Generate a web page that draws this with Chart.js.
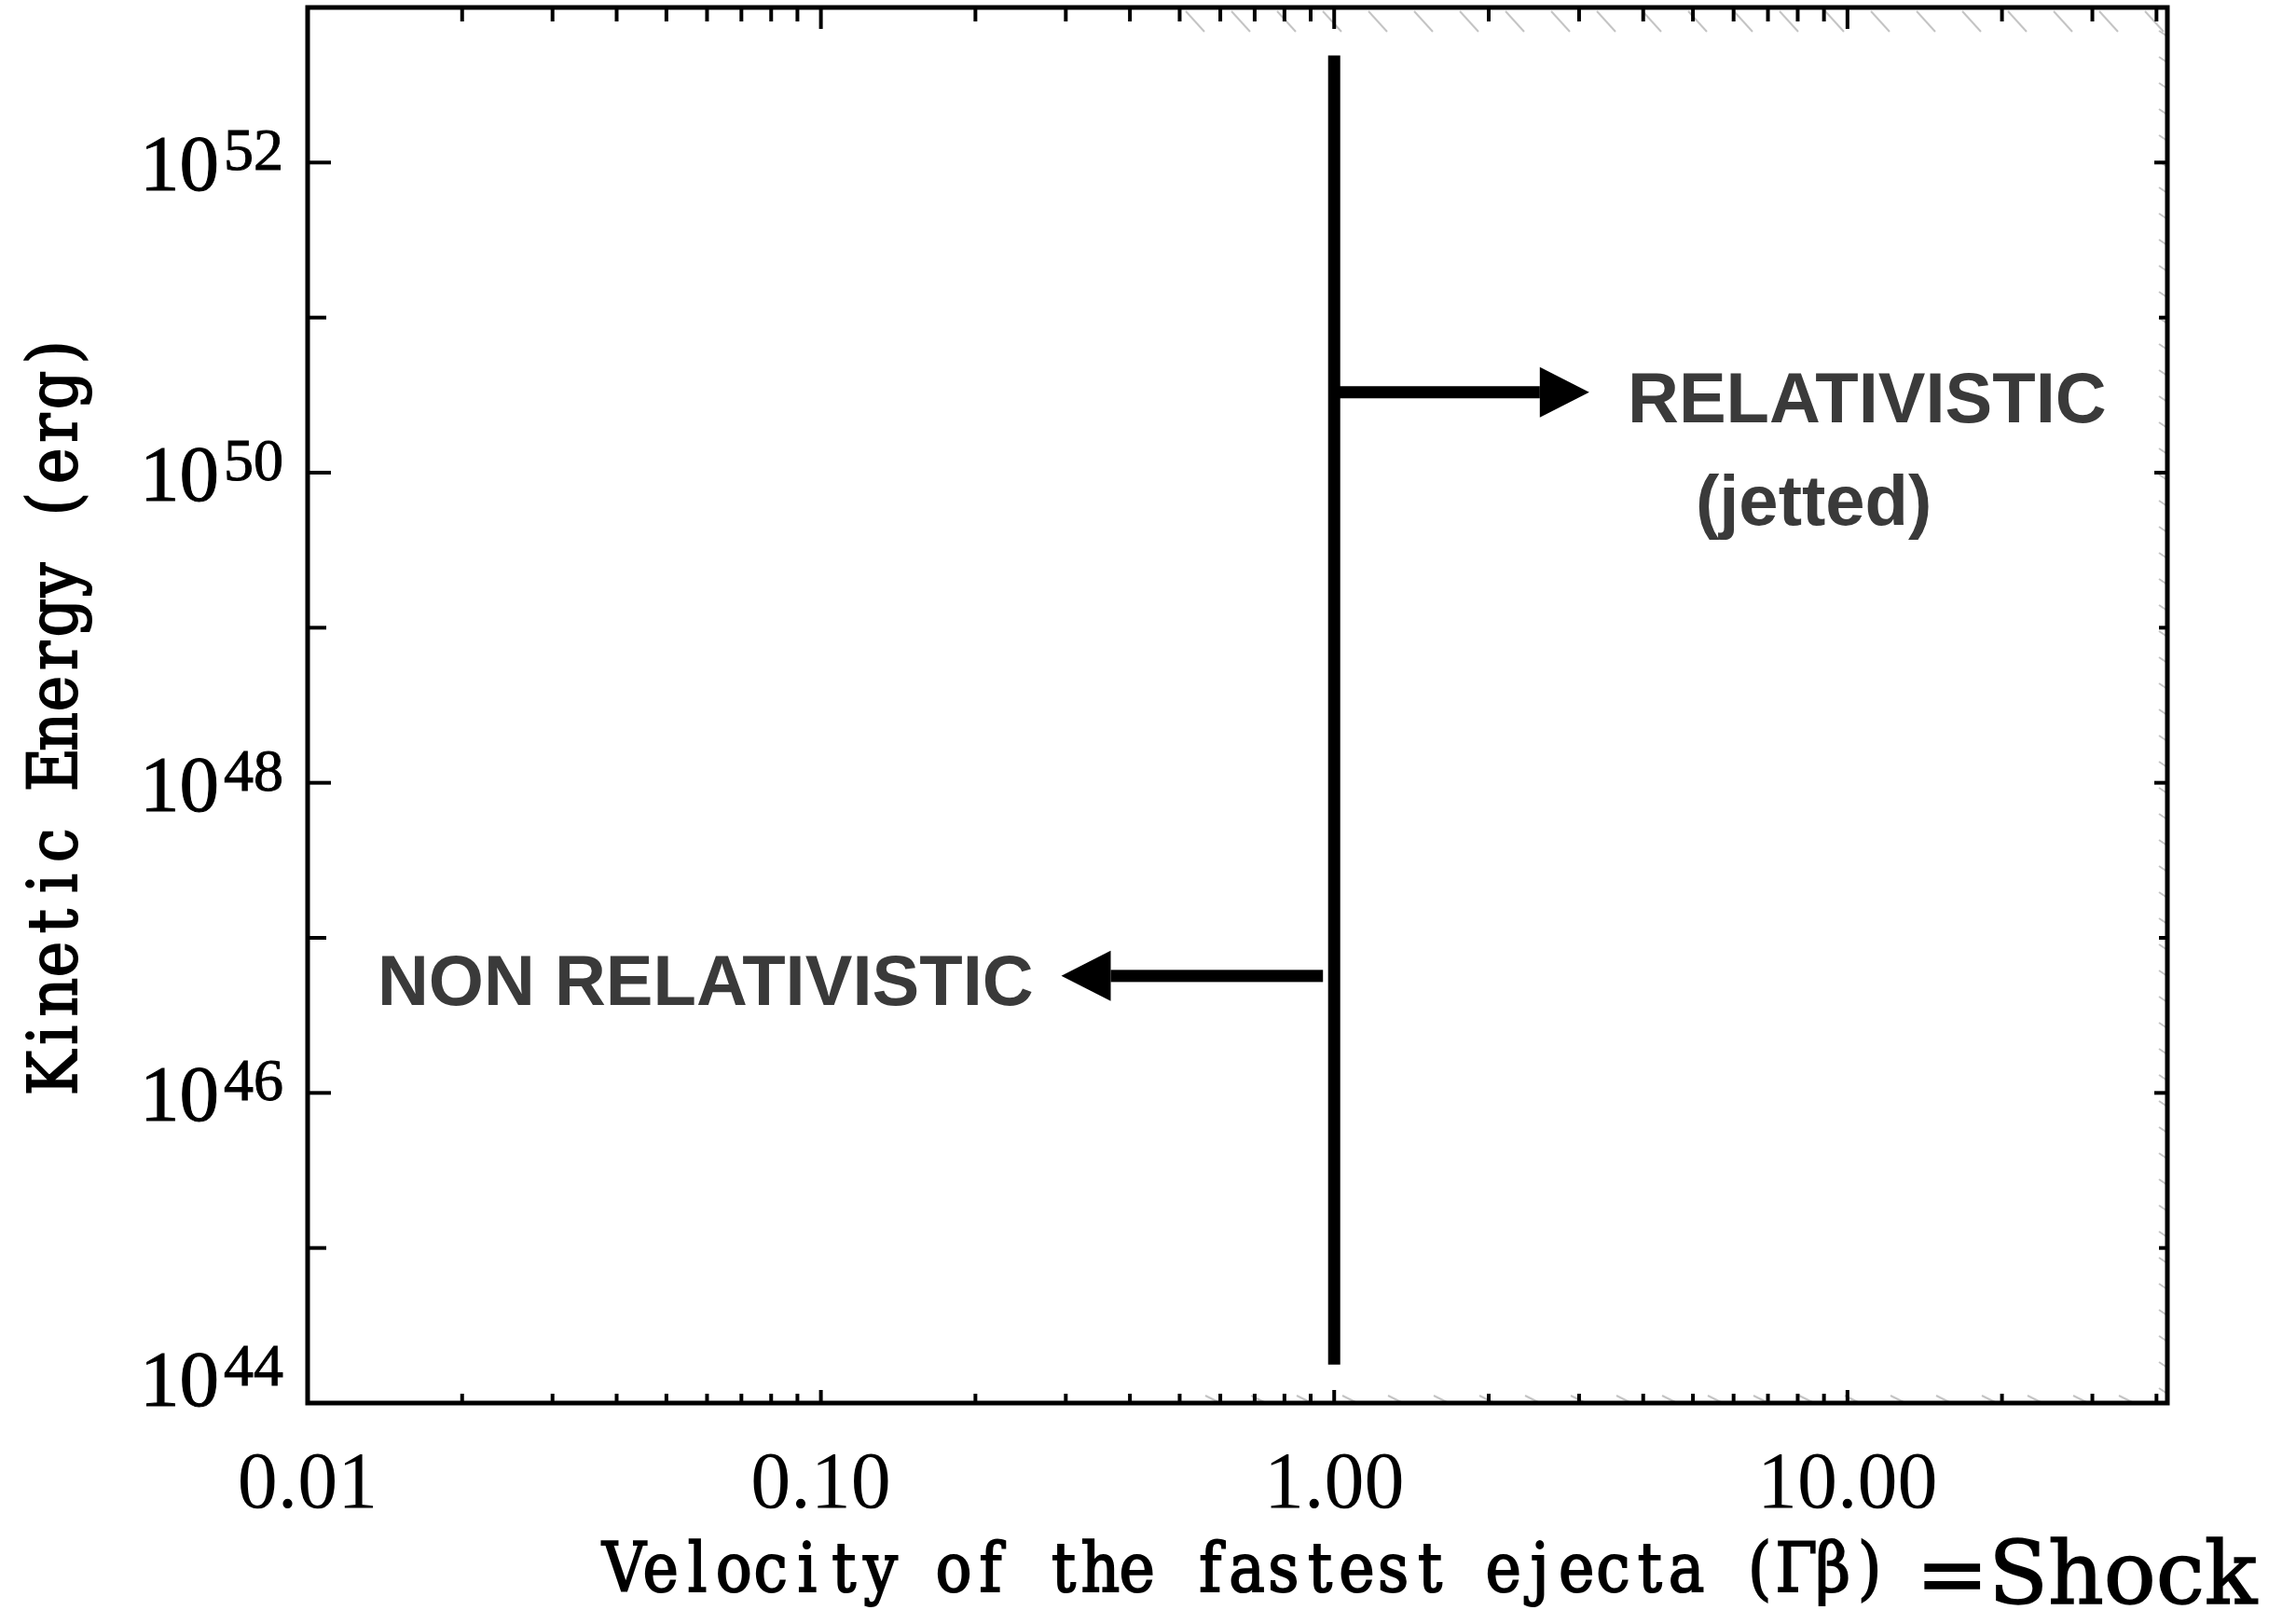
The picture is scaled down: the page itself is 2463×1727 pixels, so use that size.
<!DOCTYPE html>
<html>
<head>
<meta charset="utf-8">
<script src="https://cdn.jsdelivr.net/npm/chart.js@4/dist/chart.umd.min.js"></script>
<style>
  html, body { margin: 0; padding: 0; background: #fff; }
</style>
</head>
<body>
<canvas id="myChart" width="2463" height="1727"></canvas>
<script>
const ctx = document.getElementById('myChart')

// vertical boundary at Γβ = 1
const shockX = [1, 1]
const shockY = [4.9e52, 1.77e44]

// arrows: start, tip, height
const arrowFrom = [1, 0.951]
const arrowTo = [3.14, 0.294]
const arrowY = [3.3e50, 5.68e46]

// x ticks (all), labelled ones
const xTicks = [0.01, 0.02, 0.03, 0.04, 0.05, 0.06, 0.07, 0.08, 0.09,
  0.1, 0.2, 0.3, 0.4, 0.5, 0.6, 0.7, 0.8, 0.9,
  1, 2, 3, 4, 5, 6, 7, 8, 9,
  10, 20, 30, 40]
const xLabelTicks = [0.01, 0.1, 1, 10]

// y decades (exponents)
const yMajorExp = [44, 46, 48, 50, 52]
const yMinorExp = [45, 47, 49, 51]

const xTitle = 'Velocity of the fastest ejecta (Γβ)'
const xTitleExtra = '=Shock'
const yTitle = 'Kinetic Energy (erg)'

// text notes, anchored at the left end of their baseline
const noteText = ['RELATIVISTIC', '(jetted)', 'NON RELATIVISTIC']
const noteX = [3.73, 5.06, 0.01368]
const noteY = [2.12e50, 4.62e49, 3.7e46]

const line = (c, x1, y1, x2, y2) => {
  c.beginPath(); c.moveTo(x1, y1); c.lineTo(x2, y2); c.stroke()
}

// fill plus a thin outline, to thicken light faces a little
const heavyText = (c, t, x, y, w) => {
  c.fillText(t, x, y)
  c.lineWidth = w
  c.strokeText(t, x, y)
}

// typewriter look: every glyph squeezed into a fixed cell, centred at 0
const monoText = (c, t, cell, sx) => {
  const chars = Array.from(t)
  const start = -chars.length * cell / 2
  c.textAlign = 'center'
  chars.forEach((ch, i) => {
    c.save()
    c.translate(start + (i + 0.5) * cell, 0)
    c.scale(sx, 1)
    heavyText(c, ch, 0, 0, 2)
    c.restore()
  })
  return chars.length * cell
}

const decorations = {
  id: 'decorations',
  afterDatasetsDraw(chart) {
    const c = chart.ctx
    const a = chart.chartArea
    const {x, y} = chart.scales
    c.save()

    // faint grey hatch left over in the scan
    c.strokeStyle = '#c4c4c4'
    c.lineWidth = 2
    for (let hx = 1272; hx < a.right - 10; hx += 49) line(c, hx, a.top + 4, hx + 20, a.top + 26)
    for (let hx = 1293; hx < a.right - 5; hx += 49) line(c, hx, a.bottom - 8, hx + 16, a.bottom)
    for (let hy = a.top + 25; hy < a.bottom; hy += 28) line(c, a.right - 9, hy, a.right, hy + 6)

    // frame
    c.strokeStyle = '#000'
    c.lineWidth = 5
    c.strokeRect(a.left, a.top, a.right - a.left, a.bottom - a.top)

    // ticks, pointing inward, mirrored on top/right
    c.lineWidth = 4
    xTicks.forEach(v => {
      const px = x.getPixelForValue(v)
      if (px <= a.left + 2) return
      const major = xLabelTicks.includes(v)
      line(c, px, a.bottom, px, a.bottom - (major ? 14 : 10))
      line(c, px, a.top, px, a.top + (major ? 23 : 15))
    })
    yMajorExp.concat(yMinorExp).forEach(e => {
      const py = y.getPixelForValue(Math.pow(10, e))
      if (py >= a.bottom - 2) return
      const major = yMajorExp.includes(e)
      line(c, a.left, py, a.left + (major ? 25 : 20), py)
      line(c, a.right, py, a.right - (major ? 14 : 9), py)
    })

    // y labels 10^n
    c.fillStyle = '#000'
    c.strokeStyle = '#000'
    c.textBaseline = 'alphabetic'
    yMajorExp.forEach(e => {
      const py = y.getPixelForValue(Math.pow(10, e))
      const shift = Math.min(0, a.bottom + 3 - (py + 30))
      c.font = '64px "Liberation Serif"'
      c.textAlign = 'right'
      const expRight = a.left - 26
      heavyText(c, String(e), expRight, py + 8 + shift, 1)
      const we = c.measureText(String(e)).width
      c.font = '85px "Liberation Serif"'
      heavyText(c, '10', expRight - we - 5, py + 30 + shift, 1)
    })

    // arrows
    c.fillStyle = '#000'
    arrowFrom.forEach((x0, i) => {
      const py = y.getPixelForValue(arrowY[i])
      const p0 = x.getPixelForValue(x0)
      const p1 = x.getPixelForValue(arrowTo[i])
      const dir = Math.sign(p1 - p0)
      const base = p1 - dir * 53
      c.fillRect(Math.min(p0, base), py - 6.5, Math.abs(base - p0), 13)
      c.beginPath()
      c.moveTo(p1, py)
      c.lineTo(base, py - 27)
      c.lineTo(base, py + 27)
      c.closePath()
      c.fill()
    })

    // notes
    c.fillStyle = '#3a3a3a'
    c.font = 'bold 76px "Liberation Sans"'
    c.textAlign = 'left'
    noteText.forEach((t, i) => {
      c.fillText(t, x.getPixelForValue(noteX[i]), y.getPixelForValue(noteY[i]))
    })

    // axis titles
    c.fillStyle = '#000'
    c.strokeStyle = '#000'
    c.font = '72px "DejaVu Serif"'
    const cx = (a.left + a.right) / 2 + 10
    c.save()
    c.translate(cx, chart.height - 20)
    const wx = monoText(c, xTitle, 39.3, 0.9)
    c.restore()

    c.save()
    c.translate(82, (a.top + a.bottom) / 2 + 8)
    c.rotate(-Math.PI / 2)
    monoText(c, yTitle, 40.7, 0.9)
    c.restore()

    c.font = '93px "DejaVu Serif"'
    c.textAlign = 'left'
    heavyText(c, xTitleExtra, cx + wx / 2 + 30, chart.height - 7, 1.5)

    c.restore()
  }
}

new Chart(ctx, {
  type: 'line',
  data: {
    datasets: [
      {
        label: 'shock',
        data: shockX.map((v, i) => ({x: v, y: shockY[i]})),
        borderColor: '#000',
        borderWidth: 13,
        borderCapStyle: 'butt',
        pointRadius: 0
      }
    ]
  },
  options: {
    responsive: false,
    devicePixelRatio: 1,
    animation: false,
    layout: {padding: {left: 0, top: 8, right: 138, bottom: 0}},
    plugins: {legend: {display: false}, tooltip: {enabled: false}},
    scales: {
      x: {
        type: 'logarithmic',
        position: 'bottom',
        min: 0.01,
        max: 42,
        grid: {display: false},
        border: {display: false},
        afterBuildTicks: s => { s.ticks = xTicks.map(v => ({value: v})) },
        afterFit: s => { s.height = 222 },
        ticks: {
          autoSkip: false,
          maxRotation: 0,
          padding: 30,
          color: '#000',
          font: {family: 'Liberation Serif', size: 86},
          callback: v => xLabelTicks.includes(v) ? v.toFixed(2) : ''
        }
      },
      y: {
        type: 'logarithmic',
        min: 1e44,
        max: 1e53,
        grid: {display: false},
        border: {display: false},
        ticks: {display: false},
        afterFit: s => { s.width = 330 }
      }
    }
  },
  plugins: [decorations]
})
</script>
</body>
</html>
